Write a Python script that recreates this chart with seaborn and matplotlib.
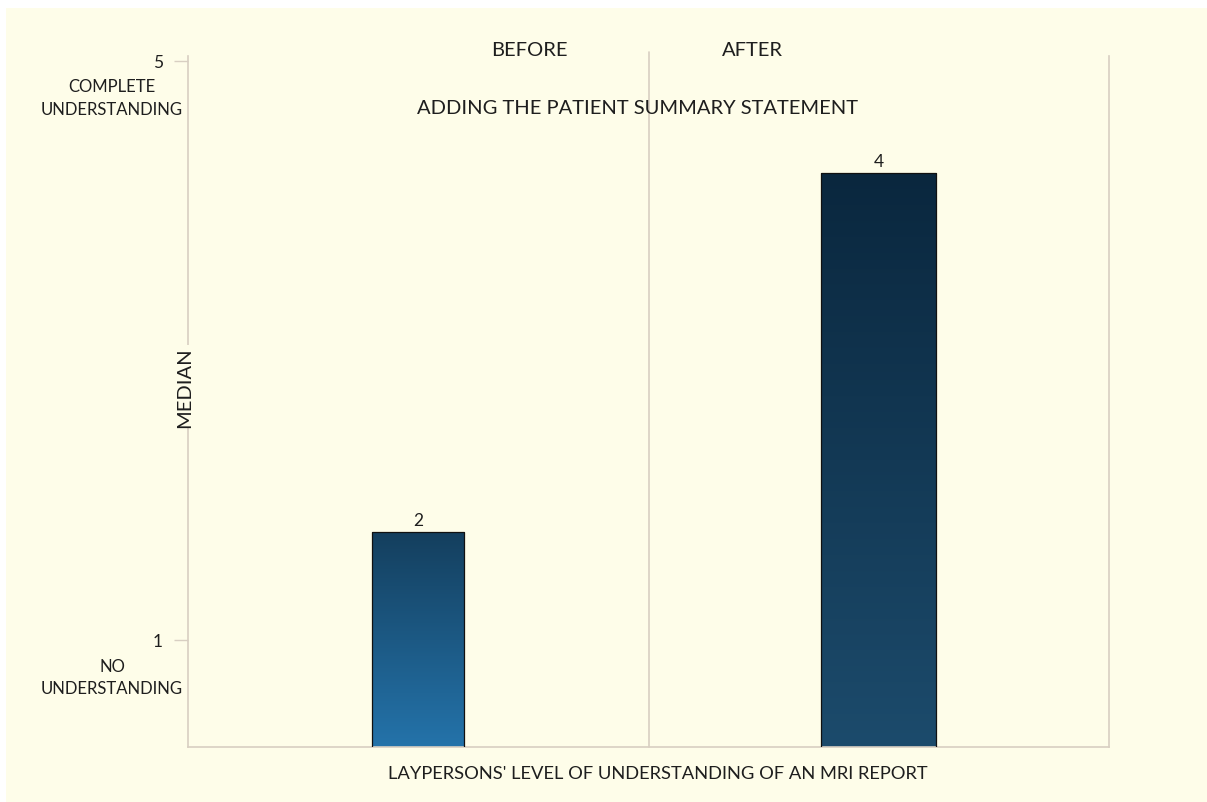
import pandas as pd
import numpy as np
import seaborn as sns
import matplotlib.pyplot as plt
from matplotlib.colors import LinearSegmentedColormap
from matplotlib.patches import Rectangle

# data
phases = ["BEFORE", "AFTER"]
medians = [2, 4]
scale_ticks = [1, 5]
scale_notes = ["NO\nUNDERSTANDING", "COMPLETE\nUNDERSTANDING"]

# style
BG = "#FEFDE9"
SPINE = "#D8CFC2"
TXT = "#1E1E1E"
bar_widths = [0.2, 0.25]
bar_grads = [("#2473AA", "#143F5E"), ("#1C4B6C", "#0A273E")]

sns.set_theme(style="white")
plt.rcParams["font.family"] = ["Lato", "DejaVu Sans"]

df = pd.DataFrame({"phase": phases, "median": medians})

fig = plt.figure(figsize=(12.07, 8.03), dpi=100, facecolor="white")
fig.patches.append(Rectangle((6 / 1207, 0), 1, 794 / 803, transform=fig.transFigure,
                             facecolor=BG, edgecolor="none", zorder=-10))
ax = fig.add_axes([188 / 1207, 1 - 748 / 803, 921 / 1207, 691 / 803])
ax.set_facecolor(BG)

sns.barplot(data=df, x="phase", y="median", ax=ax, color="#1B4A6B", width=0.25)
ax.set_ylim(0.805, 4.65)
ax.set_xlim(-0.5, 1.5)

# gradient fill + widths
for p, w, (c_lo, c_hi) in zip(ax.patches, bar_widths, bar_grads):
    cx = p.get_x() + p.get_width() / 2
    p.set_x(cx - w / 2)
    p.set_width(w)
    p.set_facecolor("none")
    p.set_edgecolor("#111111")
    p.set_linewidth(0.9)
    p.set_zorder(3)
    cmap = LinearSegmentedColormap.from_list("g", [c_lo, c_hi])
    grad = np.linspace(0, 1, 256).reshape(-1, 1)
    im = ax.imshow(grad, cmap=cmap, origin="lower", aspect="auto",
                   extent=[cx - w / 2, cx + w / 2, ax.get_ylim()[0], p.get_height()],
                   zorder=2)
    im.set_clip_path(p)
ax.set_ylim(0.805, 4.65)
ax.set_xlim(-0.5, 1.5)

ax.bar_label(ax.containers[0], fmt="%d", padding=3, fontsize=12.5, color=TXT)

# spines
for s in ["left", "bottom", "right"]:
    ax.spines[s].set_color(SPINE)
    ax.spines[s].set_linewidth(1.2)
ax.spines["top"].set_visible(False)
ax.axvline(0.5, ymax=1.006, color=SPINE, lw=1.2, clip_on=False, zorder=1)
ax.set_xticks([])
ax.set_yticks([])
ax.set_xlabel("")
ax.set_ylabel("")

# scale axis (left ticks)
ax_t = ax.twinx()
ax_t.yaxis.tick_left()
ax_t.set_ylim(0.261, 5.032)
ax_t.set_yticks(scale_ticks)
ax_t.tick_params(axis="y", length=10, width=1, color=SPINE, pad=8,
                 labelsize=12.5, labelcolor=TXT, left=True, right=False)
for s in ax_t.spines.values():
    s.set_visible(False)
for v, note in zip(scale_ticks, scale_notes):
    ax_t.annotate(note, xy=(-0.0825, v), xycoords=("axes fraction", "data"),
                  xytext=(0, -26.5), textcoords="offset points",
                  ha="center", va="center", fontsize=12, color=TXT, linespacing=1.5)

# texts
ax.text(0.371, 1.01, phases[0], transform=ax.transAxes, ha="center", va="center",
        fontsize=14.5, color=TXT)
ax.text(0.613, 1.01, phases[1], transform=ax.transAxes, ha="center", va="center",
        fontsize=14.5, color=TXT)
ax.text(0.488, 0.926, "ADDING THE PATIENT SUMMARY STATEMENT", transform=ax.transAxes,
        ha="center", va="center", fontsize=14.5, color=TXT)
ax.text(-0.004, 0.522, "MEDIAN", transform=ax.transAxes, ha="center", va="center",
        rotation=90, fontsize=14.5, color=TXT,
        bbox=dict(facecolor=BG, edgecolor="none", pad=1))
ax.text(0.51, -0.0376, "LAYPERSONS' LEVEL OF UNDERSTANDING OF AN MRI REPORT",
        transform=ax.transAxes, ha="center", va="center", fontsize=13.2, color=TXT)

fig.savefig("out.png", dpi=100, facecolor=fig.get_facecolor())
